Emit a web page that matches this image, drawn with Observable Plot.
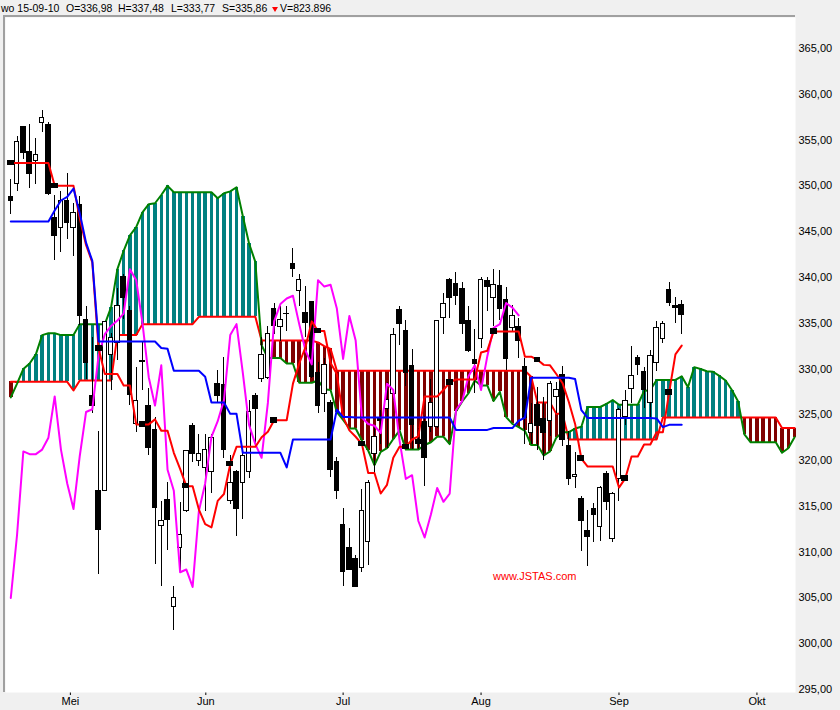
<!DOCTYPE html>
<html><head><meta charset="utf-8">
<script src="https://cdn.jsdelivr.net/npm/d3@7"></script>
<script src="https://cdn.jsdelivr.net/npm/@observablehq/plot@0.6"></script>
<style>
html,body{margin:0;padding:0;background:#f0f0f0;}
#wrap{position:relative;width:840px;height:710px;overflow:hidden;font-family:"Liberation Sans",Arial,sans-serif;background:#f0f0f0;}
#hdr{position:absolute;left:0;top:0;width:840px;height:16px;font-size:10.5px;color:#000;}
#hdr span{position:absolute;top:2px;white-space:nowrap;}
#tri{position:absolute;left:272px;top:7px;width:0;height:0;border-left:3.5px solid transparent;border-right:3.5px solid transparent;border-top:5px solid #ff0000;}
#chart{position:absolute;left:0;top:17px;}
#bl{position:absolute;left:3px;top:15px;width:2px;height:677px;background:#a0a0a0;}
#bt{position:absolute;left:3px;top:15px;width:792px;height:2px;background:#a0a0a0;}
#wm{position:absolute;left:493px;top:570px;font-size:11px;color:#ff0000;white-space:nowrap;}
</style></head>
<body><div id="wrap"><div id="hdr"></div><div id="chart"></div><div id="bl"></div><div id="bt"></div><div id="wm">www.JSTAS.com</div></div>
<script>
// ---- data (trading-day index 0 = first candle) ----
const open = [348.8,350.2,356.4,353.7,352.7,356.9,356.7,346.5,345.4,348.3,
 345.4,347.9,335.4,327.1,316.7,316.7,331.5,332.8,340.0,336.3,
 324.0,330.9,326.0,323.3,312.8,315.7,304.0,310.4,314.5,323.8,
 320.0,319.2,318.7,328.4,328.2,315.6,318.7,317.5,318.7,327.0,
 328.9,329.0,336.5,334.6,336.0,341.5,338.5,336.1,337.3,329.6,
 327.3,326.3,319.8,313.0,310.4,309.2,308.3,311.1,320.7,324.6,
 325.6,327.3,336.4,334.1,330.3,322.3,324.2,323.7,323.7,335.6,
 339.7,339.3,338.7,335.2,331.0,333.3,339.6,337.7,339.1,337.5,
 334.5,334.6,330.2,323.0,326.1,324.5,324.3,326.9,329.3,321.6,
 318.2,315.8,312.3,314.7,312.7,318.5,311.4,318.0,324.8,327.8,
 331.2,329.7,326.3,330.7,333.3,338.6,336.9,336.98];
const high = [350.7,355.4,356.5,356.7,355.2,358.2,356.9,349.0,349.4,351.3,
 348.1,348.8,336.8,333.4,323.2,335.2,333.9,338.8,340.3,336.8,
 330.2,333.0,327.9,324.7,315.5,317.6,306.3,315.4,321.1,324.0,
 322.8,322.9,322.8,329.8,331.3,320.5,318.9,320.8,326.6,327.3,
 333.4,334.6,337.1,336.8,336.8,343.2,340.3,339.0,337.4,330.7,
 331.1,326.6,320.3,314.8,312.6,309.6,316.8,317.8,323.8,325.5,
 328.5,334.4,336.8,335.3,332.1,323.5,324.8,328.8,335.2,338.2,
 339.9,340.5,339.5,336.8,334.3,340.0,340.0,340.9,340.8,338.9,
 336.9,335.5,331.1,326.2,328.0,326.9,328.6,328.5,330.3,323.2,
 320.9,316.1,314.5,315.3,317.2,318.8,316.5,325.7,327.7,332.5,
 331.5,330.2,332.0,335.2,335.2,339.4,337.8,337.48];
const low = [346.9,349.4,352.9,349.7,350.1,355.8,349.0,341.8,342.7,344.1,
 342.3,334.7,328.9,325.1,307.6,316.6,327.7,330.9,335.4,326.0,
 323.1,327.7,320.6,308.7,306.2,310.2,301.4,307.9,314.3,319.8,
 319.4,314.4,316.4,326.2,320.2,315.2,311.7,313.6,318.0,321.6,
 328.5,328.9,333.8,333.0,334.1,340.0,336.8,333.4,329.0,325.1,
 325.3,318.1,315.7,306.3,308.0,306.2,307.8,308.5,318.5,321.8,
 321.3,326.6,332.6,328.1,321.2,321.2,317.2,323.1,323.5,333.8,
 335.5,336.9,333.8,331.8,327.3,332.2,336.3,334.6,335.3,329.8,
 334.0,331.1,321.8,321.8,321.1,320.0,322.6,325.1,321.5,317.3,
 316.9,310.1,308.4,311.1,311.2,314.5,311.0,315.5,323.8,326.2,
 329.3,325.7,324.7,329.7,332.8,336.8,335.0,333.77];
const close = [348.4,354.8,353.6,351.3,353.4,357.4,349.1,344.5,348.4,345.9,
 347.0,335.8,330.7,326.0,312.4,335.1,333.4,336.9,337.8,327.2,
 326.5,330.8,321.4,314.8,313.4,313.5,305.0,311.9,321.0,320.7,
 320.7,321.2,322.5,327.0,321.2,317.5,314.7,320.5,325.3,325.6,
 331.5,333.8,334.7,335.3,336.05,340.9,339.7,335.0,329.1,326.0,
 330.4,319.0,316.7,307.8,308.1,306.2,314.5,317.5,322.6,324.3,
 326.6,333.7,334.9,329.6,323.9,321.8,320.3,326.3,335.2,337.1,
 337.7,338.0,334.9,332.0,330.5,339.7,339.0,339.2,336.6,331.1,
 335.8,333.1,324.7,324.0,323.8,323.0,328.4,327.7,322.2,318.0,
 318.4,313.4,311.6,314.1,317.0,315.5,316.4,325.5,326.5,329.2,
 330.4,327.7,331.4,334.5,334.9,337.2,336.7,335.86];
const tenkan = [352.5,352.5,352.5,352.5,352.5,352.5,352.5,350.0,350.0,350.0,
 350.0,346.45,343.55,341.65,332.25,329.45,329.45,329.45,328.2,328.2,
 323.95,323.95,323.95,324.5,323.25,323.25,320.85,319.1,317.2,317.2,
 314.65,313.05,312.7,315.6,316.35,319.6,321.5,321.5,321.5,321.5,
 322.55,323.15,324.4,324.4,324.4,328.4,330.6,332.4,335.2,334.15,
 334.15,330.65,329.45,324.75,323.3,322.6,321.8,318.65,318.65,316.4,
 317.35,320.3,321.5,321.5,322.3,322.65,327.0,327.0,327.0,327.7,
 328.55,328.85,328.85,328.85,328.85,331.8,332.0,334.1,334.1,334.1,
 334.1,334.1,331.35,331.35,331.0,330.45,330.4,329.45,328.45,326.4,
 324.0,320.2,319.35,319.35,319.35,319.35,319.35,317.05,318.05,320.45,
 320.45,321.75,321.75,323.1,323.1,327.45,331.6,332.55];
const kijun = [346.1,346.1,346.1,346.1,346.1,346.1,346.1,347.3,348.4,348.8,
 349.7,347.0,343.8,341.8,333.0,333.0,333.0,333.0,333.0,333.0,
 333.0,333.0,333.0,333.0,332.3,332.2,329.8,329.8,329.8,329.8,
 329.8,329.15,326.35,326.35,326.35,325.1,325.1,320.85,320.85,320.85,
 320.85,320.85,320.85,320.85,319.25,322.3,322.3,322.3,322.3,322.3,
 322.3,322.3,325.55,324.75,324.75,324.7,324.7,324.7,324.7,324.7,
 324.7,324.7,324.7,324.7,324.7,324.7,324.7,324.7,324.7,324.7,
 324.7,323.35,323.35,323.35,323.35,323.35,323.35,323.55,323.55,323.55,
 323.55,324.35,324.7,329.05,329.05,329.05,329.05,329.05,329.05,329.05,
 328.9,325.5,324.65,324.65,324.65,324.65,324.65,324.65,324.65,324.65,
 324.65,324.65,324.65,324.6,323.65,323.9,323.9,323.9];
const senkouA = [326.9,328.4,330.0,330.6,331.6,333.7,333.9,333.9,333.7,333.7,
 333.7,334.9,334.9,334.9,334.9,334.9,336.75,340.9,342.9,344.6,
 345.5,347.1,348.0,348.1,349.0,350.0,349.3,349.3,349.3,349.3,
 349.3,349.3,349.3,348.65,349.2,349.4,349.85,346.7,343.7,341.7,
 332.6,331.2,331.2,331.2,330.6,330.6,328.5,328.5,328.5,328.75,
 327.8,327.7,325.3,324.45,323.5,323.5,322.2,321.1,319.5,320.95,
 321.35,322.35,323.3,321.2,321.2,321.2,321.7,322.0,322.6,322.6,
 321.8,325.35,326.45,327.35,328.75,328.2,328.2,326.5,327.5,324.75,
 324.0,323.65,323.25,321.7,321.7,320.55,321.0,322.5,323.1,323.1,
 323.5,323.7,325.85,325.85,325.85,326.2,326.6,326.1,326.1,326.1,
 326.1,327.6,327.7,328.8,328.8,328.8,328.8,329.2,328.0,330.2,
 330.0,329.75,329.7,329.25,328.75,327.7,326.45,322.85,322.0,322.0,
 322.0,322.0,322.0,320.85,321.35,322.55];
const senkouB = [328.6,328.6,328.6,328.6,328.6,328.6,328.6,328.6,328.6,328.6,
 327.65,328.75,328.75,328.75,328.75,328.75,328.75,333.7,333.7,333.7,
 333.7,334.9,334.9,334.9,334.9,334.9,334.9,334.9,334.9,334.9,
 335.7,335.7,335.7,335.7,335.7,335.7,335.7,335.7,335.7,335.7,
 333.1,333.1,333.1,333.1,333.1,333.1,333.1,333.1,333.1,332.9,
 332.5,332.2,329.8,329.8,329.8,329.8,329.8,329.8,329.8,329.8,
 329.8,329.8,329.8,329.8,329.8,329.8,329.8,329.8,329.8,329.8,
 329.8,329.8,329.8,329.8,329.8,329.8,329.8,329.8,329.8,329.8,
 329.8,329.8,329.8,329.15,326.35,326.35,326.35,325.1,325.1,322.3,
 322.3,322.3,322.3,322.3,322.3,322.3,322.3,322.3,322.3,322.3,
 322.3,322.3,322.3,322.3,324.7,324.7,324.7,324.7,324.7,324.7,
 324.7,324.7,324.7,324.7,324.7,324.7,324.7,324.7,324.7,324.7,
 324.7,324.7,324.7,323.55,323.55,323.55];
const chikouShift = 26;
const markerIdx = [0,7,14,21,28,35,42,49,56,63,70,77,84,91,98,105];
const yTicks = [295,300,305,310,315,320,325,330,335,340,345,350,355,360,365];
const monthTicks = [9.5,31.1,53,75,97,119];
const monthLabels = ["Mei","Jun","Jul","Aug","Sep","Okt"];
const headerParts = [["wo 15-09-10",1],["O=336,98",66],["H=337,48",118],["L=333,77",171],["S=335,86",222],["V=823.896",280]];

// ---- header ----
const hdr = document.getElementById("hdr");
headerParts.forEach(([t, x]) => {
  const s = document.createElement("span");
  s.textContent = t; s.style.left = x + "px"; hdr.appendChild(s);
});
const tri = document.createElement("div"); tri.id = "tri"; hdr.appendChild(tri);

// ---- derived tables ----
const candles = open.map((o, i) => ({i, o, h: high[i], l: low[i], c: close[i]}));
const cloud = senkouA.map((a, i) => ({i, a, b: senkouB[i]}));
const tk = tenkan.map((v, i) => ({i, v}));
const kj = kijun.map((v, i) => ({i, v}));
const chikou = close.slice(chikouShift).map((v, k) => ({i: k, v}));
const markers = markerIdx.map(i => ({i, v: tenkan[i]}));

const crisp = "crispEdges";
const chart = Plot.plot({
  width: 840, height: 693,
  marginLeft: 5, marginRight: 45, marginTop: 0, marginBottom: 18,
  x: {domain: [-0.845, 125.15], axis: "bottom", ticks: monthTicks, tickSize: 3, tickPadding: 2,
      tickFormat: d => monthLabels[monthTicks.indexOf(d)], label: null},
  y: {domain: [294.672, 368.385], axis: "right", ticks: yTicks, tickSize: 0, tickPadding: 3,
      tickFormat: d => d.toFixed(2).replace(".", ","), label: null},
  color: {type: "identity"},
  style: {background: "transparent", fontFamily: "Liberation Sans, Arial, sans-serif", fontSize: "11px", color: "#000", overflow: "visible"},
  marks: [
    Plot.frame({fill: "white", stroke: "none"}),
    Plot.ruleX(cloud, {x: "i", y1: "a", y2: "b", stroke: d => d.a >= d.b ? "#008080" : "#800000", strokeWidth: 3.5, shapeRendering: crisp}),
    Plot.line(cloud, {x: "i", y: "b", stroke: "#ff0000", strokeWidth: 2}),
    Plot.line(cloud, {x: "i", y: "a", stroke: "#008000", strokeWidth: 2}),
    Plot.ruleX(candles, {x: "i", y1: "l", y2: "h", stroke: "#000", strokeWidth: 1, shapeRendering: crisp}),
    Plot.rect(candles, {x1: d => d.i - 0.36, x2: d => d.i + 0.36, y1: "o", y2: "c",
      fill: d => d.c >= d.o ? "#ffffff" : "#000000", stroke: "#000", strokeWidth: 1, shapeRendering: crisp}),
    Plot.line(chikou, {x: "i", y: "v", stroke: "#ff00ff", strokeWidth: 2}),
    Plot.line(tk, {x: "i", y: "v", stroke: "#ff0000", strokeWidth: 2}),
    Plot.line(kj, {x: "i", y: "v", stroke: "#0000ff", strokeWidth: 2}),
    Plot.rect(markers, {x1: d => d.i - 0.55, x2: d => d.i + 0.55, y1: d => d.v - 0.3, y2: d => d.v + 0.3, fill: "#000000", shapeRendering: crisp})
  ]
});
document.getElementById("chart").appendChild(chart);
</script>
</body></html>
